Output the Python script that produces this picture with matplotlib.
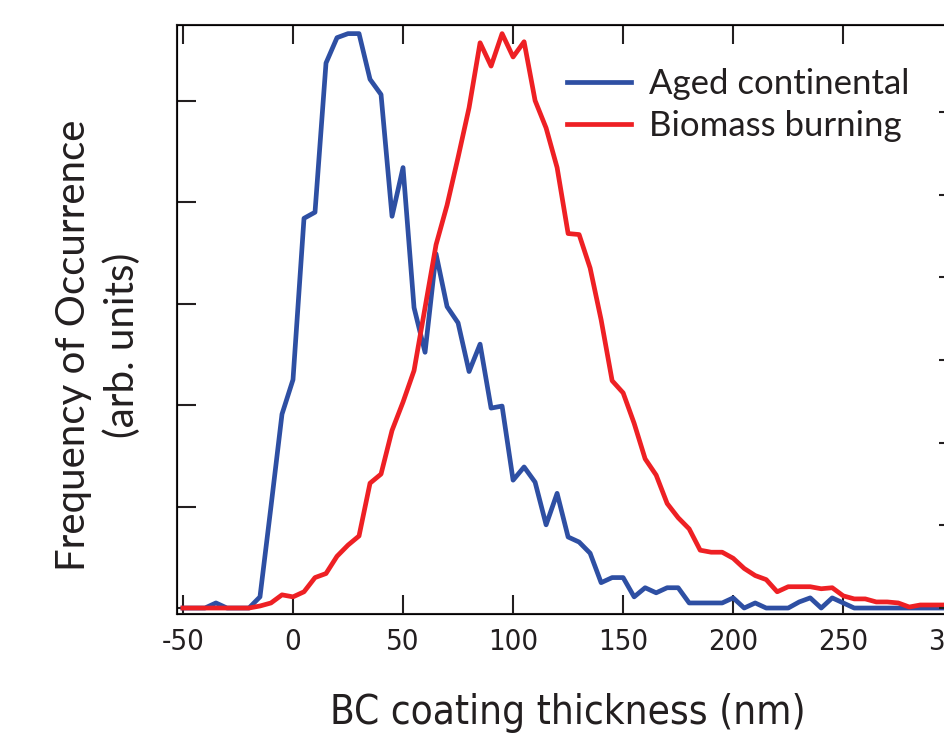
import matplotlib
matplotlib.use("Agg")
import matplotlib.pyplot as plt

# BC coating thickness bins (nm)
thickness = [-50, -45, -40, -35, -30, -25, -20, -15, -10, -5,
             0, 5, 10, 15, 20, 25, 30, 35, 40, 45,
             50, 55, 60, 65, 70, 75, 80, 85, 90, 95,
             100, 105, 110, 115, 120, 125, 130, 135, 140, 145,
             150, 155, 160, 165, 170, 175, 180, 185, 190, 195,
             200, 205, 210, 215, 220, 225, 230, 235, 240, 245,
             250, 255, 260, 265, 270, 275, 280, 285, 290, 295, 300]

aged_continental = [0, 0, 0, 0.05, 0, 0, 0, 0.11, 1.0, 1.91,
                    2.25, 3.84, 3.90, 5.37, 5.62, 5.66, 5.66, 5.21, 5.06, 3.86,
                    4.34, 2.96, 2.52, 3.49, 2.97, 2.81, 2.33, 2.60, 1.97, 1.99,
                    1.26, 1.39, 1.24, 0.82, 1.13, 0.70, 0.65, 0.54, 0.25, 0.30,
                    0.30, 0.11, 0.20, 0.15, 0.20, 0.20, 0.05, 0.05, 0.05, 0.05,
                    0.10, 0, 0.05, 0, 0, 0, 0.06, 0.10, 0, 0.10,
                    0.05, 0, 0, 0, 0, 0, 0, 0, 0, 0, 0]

biomass_burning = [0, 0, 0, 0, 0, 0, 0, 0.02, 0.05, 0.13,
                   0.11, 0.16, 0.30, 0.34, 0.51, 0.62, 0.71, 1.23, 1.32, 1.75,
                   2.03, 2.34, 2.96, 3.58, 3.97, 4.44, 4.93, 5.57, 5.34, 5.66,
                   5.43, 5.58, 5.00, 4.73, 4.34, 3.69, 3.68, 3.35, 2.84, 2.24,
                   2.12, 1.82, 1.47, 1.31, 1.03, 0.89, 0.78, 0.57, 0.55, 0.55,
                   0.49, 0.39, 0.32, 0.28, 0.16, 0.21, 0.21, 0.21, 0.19, 0.20,
                   0.12, 0.09, 0.09, 0.06, 0.06, 0.05, 0.01, 0.03, 0.03, 0.03, 0.03]

xticks = [-50, 0, 50, 100, 150, 200, 250, 300]
left_yticks = [0, 1, 2, 3, 4, 5]
right_yticks = [0, 1, 2, 3, 4, 5, 6]

ink = "#231F20"
blue = "#2E4FA3"
red = "#EE2024"
plain = ["Lato", "DejaVu Sans"]

fig = plt.figure(figsize=(9.44, 7.38), dpi=100)
ax = fig.add_axes([0.1875, 0.168, 0.827, 0.798])

ax.plot(thickness, aged_continental, color=blue, lw=3.4, label="Aged continental")
ax.plot(thickness, biomass_burning, color=red, lw=3.4, label="Biomass burning")

ax.set_xlim(-52.7, 302)
ax.set_ylim(-0.059, 5.744)
ax.set_xticks(xticks)
ax.set_xticklabels([str(t) for t in xticks], family="DejaVu Sans", stretch="condensed",
                   fontsize=21, color=ink)
ax.set_yticks(left_yticks)
ax.set_yticklabels([])
ax.tick_params(axis="both", direction="in", length=14, width=1.5, color=ink,
               top=True, pad=10)
for sp in ax.spines.values():
    sp.set_linewidth(1.5)
    sp.set_color(ink)

# right-hand axis, different scale, only inward ticks
ax2 = ax.twinx()
ax2.set_ylim(-0.0726, 7.05)
ax2.set_yticks(right_yticks)
ax2.set_yticklabels([])
ax2.tick_params(axis="y", direction="in", length=14, width=1.5, color=ink)
ax2.spines["right"].set_linewidth(1.5)

ax.set_xlabel("BC coating thickness (nm)", family="DejaVu Sans", stretch="condensed",
              fontsize=29, color=ink, labelpad=27)
fig.text(98 / 944, 1 - 345 / 738, "Frequency of Occurrence\n(arb. units)", rotation=90,
         ha="center", va="center", multialignment="center",
         family=plain, fontsize=29, color=ink, linespacing=1.35)

ax.legend(loc="upper left", bbox_to_anchor=(567 / 944, 1 - 68 / 738),
          bbox_transform=fig.transFigure, frameon=False, borderpad=0,
          borderaxespad=0, handlelength=1.85, handletextpad=0.5, labelspacing=0.3,
          prop={"family": plain, "size": 25}, labelcolor=ink)

fig.savefig("out.png", dpi=100)
